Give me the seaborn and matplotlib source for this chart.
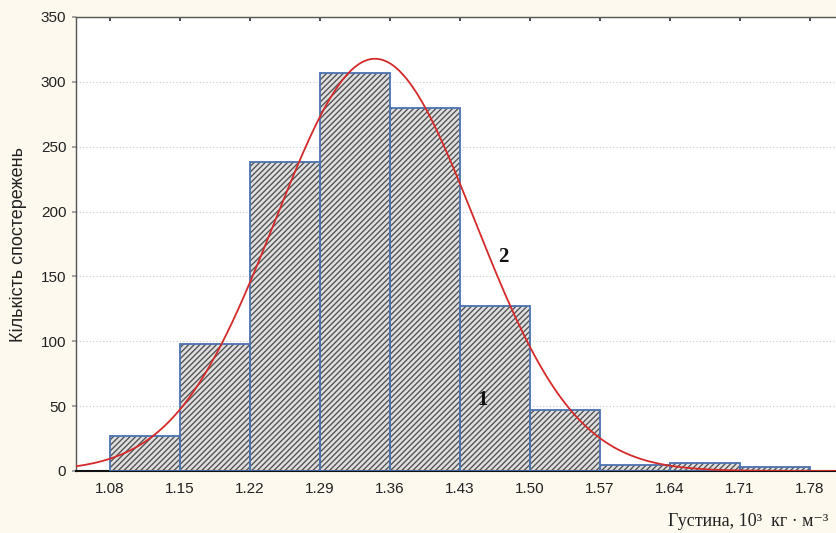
import numpy as np
import pandas as pd
import matplotlib
matplotlib.use("Agg")
import matplotlib.pyplot as plt
import seaborn as sns

# ---- data ----
bin_edges = [1.08, 1.15, 1.22, 1.29, 1.36, 1.43, 1.50, 1.57, 1.64, 1.71, 1.78]
counts = [27, 98, 238, 307, 280, 127, 47, 5, 6, 3]
tick_labels = ["1.08", "1.15", "1.22", "1.29", "1.36", "1.43", "1.50", "1.57", "1.64", "1.71", "1.78"]
y_ticks = [0, 50, 100, 150, 200, 250, 300, 350]
fit_mean = 1.345      # fitted normal curve (label 2)
fit_sd = 0.100
fit_total = sum(counts)

centers = [(a + b) / 2 for a, b in zip(bin_edges[:-1], bin_edges[1:])]
df = pd.DataFrame({"density": centers, "count": counts})

sns.set_theme(style="white")
plt.rcParams["font.family"] = ["Liberation Sans", "DejaVu Sans"]

fig = plt.figure(figsize=(8.37, 5.33), dpi=100)
fig.patch.set_facecolor("#fdf9ee")
ax = fig.add_axes([76 / 837, 62 / 533, 1 - 76 / 837, 454 / 533])
ax.set_facecolor("white")

# hatched fill
sns.histplot(data=df, x="density", weights="count", bins=bin_edges, ax=ax,
             stat="count", element="bars", fill=True, color="#d0d0d0",
             edgecolor="#555555", linewidth=0, alpha=1, zorder=2)
for p in ax.patches:
    p.set_hatch("//////")
    p.set_facecolor("#e0e0e0")
# blue outlines
sns.histplot(data=df, x="density", weights="count", bins=bin_edges, ax=ax,
             stat="count", element="bars", fill=False,
             edgecolor="#1e1ed2", linewidth=1.3, zorder=3)

# fitted normal curve
binw = bin_edges[1] - bin_edges[0]
xs = np.linspace(1.03, 1.83, 400)
ys = fit_total * binw / (fit_sd * np.sqrt(2 * np.pi)) * np.exp(-0.5 * ((xs - fit_mean) / fit_sd) ** 2)
sns.lineplot(x=xs, y=ys, ax=ax, color="#d42a2a", linewidth=1.3, zorder=4)

ax.set_xlim(1.046, 1.807)
ax.set_ylim(0, 350)
ax.set_xticks(bin_edges)
ax.set_xticklabels(tick_labels)
ax.set_yticks(y_ticks)
ax.set_yticklabels([str(v) for v in y_ticks])
ax.tick_params(axis="both", labelsize=11, colors="#222222")
ax.tick_params(axis="x", bottom=False, top=True, direction="in", length=3,
               color="#333333", pad=8)
ax.tick_params(axis="y", left=True, direction="out", length=3, color="#999999", pad=4)

ax.yaxis.grid(True, linestyle=(0, (1, 2)), color="#c8c8c8", linewidth=0.8, zorder=0)
ax.set_axisbelow(True)

for side in ["top", "left", "bottom"]:
    ax.spines[side].set_visible(True)
    ax.spines[side].set_color("#555555")
    ax.spines[side].set_linewidth(1.0)
ax.spines["right"].set_visible(False)
ax.spines["bottom"].set_color("#111111")
ax.spines["bottom"].set_linewidth(1.5)

ax.set_xlabel("")
ax.set_ylabel("Кількість спостережень", fontsize=13, color="#222222",
              family=["Liberation Sans", "DejaVu Sans"], labelpad=10)
fig.text(828 / 837, 1 - 522 / 533, "Густина, 10³  кг · м⁻³", ha="right", va="center",
         fontsize=13, color="#222222", family=["Liberation Serif", "DejaVu Serif"])

ax.text(1.473, 165, "2", fontsize=15, fontweight="bold", color="#111111",
        family=["Liberation Serif", "DejaVu Serif"], ha="center", va="center", zorder=5)
ax.text(1.453, 55, "1", fontsize=15, fontweight="bold", color="#111111",
        family=["Liberation Serif", "DejaVu Serif"], ha="center", va="center", zorder=5)

fig.savefig("out.png", dpi=100, facecolor=fig.get_facecolor())
